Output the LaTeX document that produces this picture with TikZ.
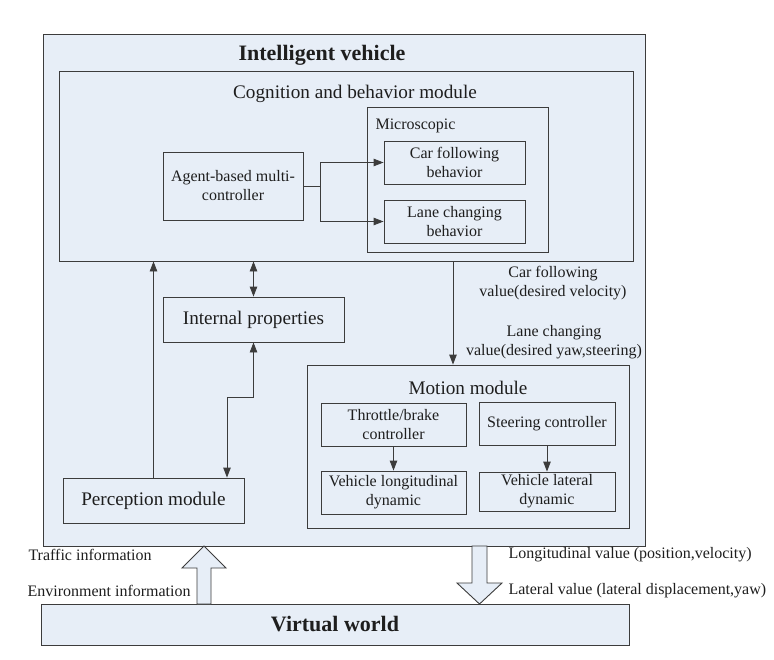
\documentclass[tikz,border=0pt]{standalone}
\usepackage{fontspec}
\setmainfont{Liberation Serif}
\usetikzlibrary{arrows.meta}
\definecolor{boxfill}{HTML}{E7EEF7}
\definecolor{linec}{HTML}{3C3C3C}
\definecolor{txtc}{HTML}{1E1E1E}
\tikzset{
  box/.style={draw=linec, line width=0.9pt, fill=boxfill, inner sep=0pt, text=txtc, align=center},
  small/.style={font=\fontsize{16}{19}\selectfont, text=txtc},
  mid/.style={font=\fontsize{19.2}{22}\selectfont, text=txtc},
  big/.style={font=\fontsize{22}{26}\selectfont\bfseries, text=txtc},
  arr/.style={draw=linec, line width=0.9pt, -{Triangle[length=10pt,width=7.5pt]}},
  darr/.style={draw=linec, line width=0.9pt, {Triangle[length=10pt,width=7.5pt]}-{Triangle[length=10pt,width=7.5pt]}},
  hollow/.style={draw=linec, line width=0.9pt, fill=boxfill, line join=miter},
}
\begin{document}
\begin{tikzpicture}[x=1pt,y=-1pt]
\useasboundingbox (0,0) rectangle (774,659);
% containers
\node[box, minimum width=602, minimum height=512] (outer) at (344,290) {};
\node[big] (title) at (322,55) {Intelligent vehicle};
\node[box, minimum width=574, minimum height=190] (cog) at (346,166) {};
\node[mid] (cogt) at (355,94) {Cognition and behavior module};
\node[box, minimum width=181, minimum height=145] (micro) at (457.5,179.5) {};
\node[small, anchor=west] (microt) at (372,126) {Microscopic};
\node[box, small, minimum width=141, minimum height=43] (carf) at (454.5,162.5) {Car following\\behavior};
\node[box, small, minimum width=141, minimum height=43] (lanec) at (454.5,221.5) {Lane changing\\behavior};
\node[box, small, minimum width=140, minimum height=68] (agent) at (233,186) {Agent-based multi-\\controller};
\node[box, mid, minimum width=181, minimum height=45] (internal) at (253.5,319.5) {Internal properties};
\node[box, mid, minimum width=181, minimum height=45] (percep) at (153.5,500.5) {Perception module};
\node[box, minimum width=322, minimum height=163] (motion) at (468,446.5) {};
\node[mid] (motiont) at (468,388) {Motion module};
\node[box, small, minimum width=145, minimum height=43] (throttle) at (393.5,424.5) {Throttle/brake\\controller};
\node[box, small, minimum width=145, minimum height=43] (vlong) at (393.5,492.5) {Vehicle longitudinal\\dynamic};
\node[box, small, minimum width=136, minimum height=43] (steer) at (547,423.5) {Steering controller};
\node[box, small, minimum width=136, minimum height=39] (vlat) at (547,491.5) {Vehicle lateral\\dynamic};
\node[box, big, minimum width=588, minimum height=41] (virtual) at (335,624.5) {Virtual world};
% labels
\node[small, align=center] (l1) at (553,283) {Car following\\value(desired velocity)};
\node[small, align=center] (l2) at (554,342.5) {Lane changing\\value(desired yaw,steering)};
\node[small, anchor=west] (l3) at (25,555) {Traffic information};
\node[small, anchor=west] (l4) at (24,591) {Environment information};
\node[small, anchor=west] (l5) at (505,555) {Longitudinal value (position,velocity)};
\node[small, anchor=west] (l6) at (505,591) {Lateral value (lateral displacement,yaw)};
% connectors
\draw[line width=0.9pt, draw=linec] (agent.east) -- ++(17,0) coordinate (j);
\draw[arr] (j) |- (carf.west);
\draw[arr] (j) |- (lanec.west);
\draw[arr] (percep.north) -- (percep.north |- cog.south);
\draw[darr] (internal.north) -- (internal.north |- cog.south);
\coordinate (pk) at (227,0);
\draw[darr] (internal.south) -- ++(0,55) -| (percep.north -| pk);
\coordinate (mx) at (453,0);
\draw[arr] (cog.south -| mx) -- (motion.north -| mx);
\draw[arr] (throttle) -- (vlong);
\draw[arr] (steer) -- (vlat);
% hollow arrows
\draw[hollow] (197,604) -- (197,568) -- (182,568) -- (204,546) -- (226,568) -- (211,568) -- (211,604) -- cycle;
\draw[hollow] (472,546) -- (472,583) -- (457,583) -- (479.5,604) -- (502,583) -- (487,583) -- (487,546) -- cycle;
\end{tikzpicture}
\end{document}
